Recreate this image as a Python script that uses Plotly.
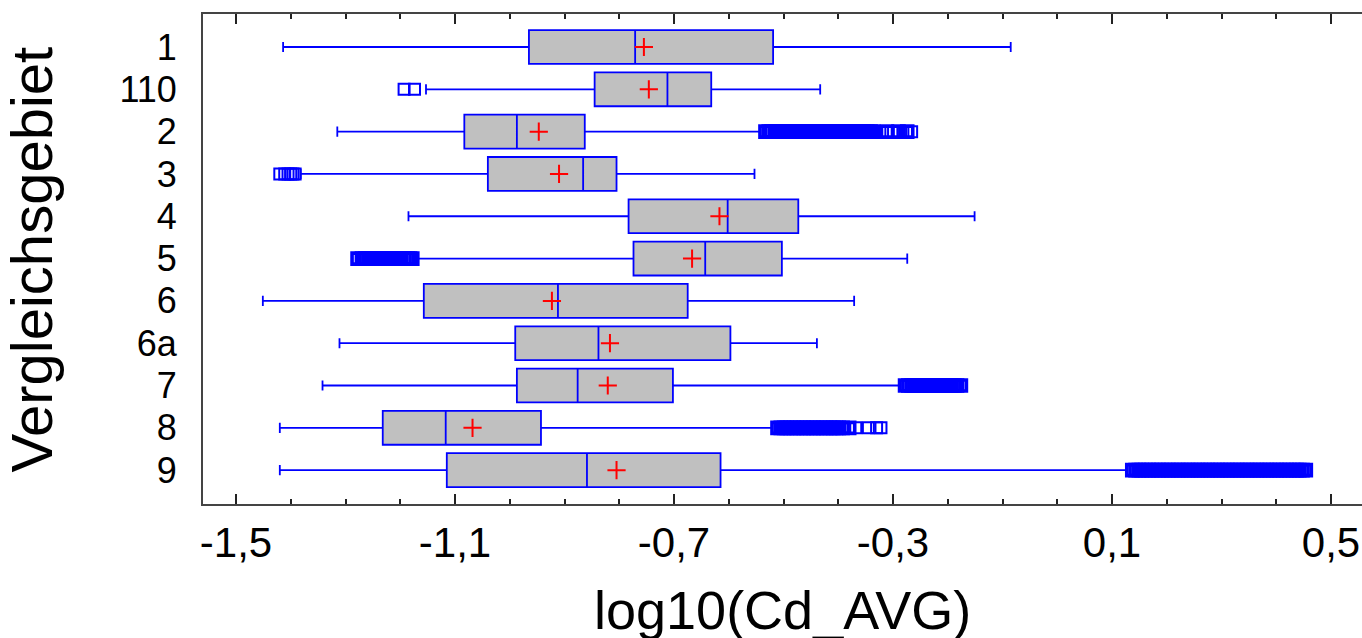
import plotly.graph_objects as go

categories = ["1", "110", "2", "3", "4", "5", "6", "6a", "7", "8", "9"]
lower_whisker = [-1.414, -1.153, -1.315, -1.382, -1.185, -1.168, -1.451, -1.311, -1.342, -1.420, -1.420]
q1 = [-0.965, -0.845, -1.083, -1.040, -0.783, -0.774, -1.157, -0.990, -0.987, -1.232, -1.115]
median = [-0.771, -0.712, -0.987, -0.866, -0.602, -0.643, -0.912, -0.838, -0.876, -1.117, -0.859]
q3 = [-0.519, -0.632, -0.863, -0.805, -0.473, -0.503, -0.675, -0.597, -0.702, -0.943, -0.615]
upper_whisker = [-0.085, -0.433, -0.543, -0.553, -0.151, -0.274, -0.371, -0.439, -0.288, -0.521, 0.127]
means = [-0.755, -0.746, -0.947, -0.910, -0.617, -0.667, -0.923, -0.817, -0.821, -1.068, -0.805]

sparse_outliers = {
    "110": [-1.193, -1.174],
    "3": [-1.420, -1.411, -1.405, -1.400, -1.396, -1.392],
    "2": [-0.324, -0.299, -0.282, -0.266],
    "8": [-0.368, -0.345, -0.330, -0.322],
}
dense_outliers = {
    "2": [-0.533, -0.527, -0.522, -0.515, -0.509, -0.504, -0.497, -0.491, -0.486, -0.479,
          -0.473, -0.468, -0.461, -0.455, -0.450, -0.443, -0.437, -0.432, -0.425, -0.419,
          -0.414, -0.407, -0.401, -0.396, -0.389, -0.383, -0.378, -0.371, -0.365, -0.360,
          -0.353, -0.347, -0.341, -0.336, -0.311, -0.290, -0.274],
    "5": [-1.278, -1.270, -1.264, -1.258, -1.253, -1.246, -1.240, -1.235, -1.228, -1.222,
          -1.217, -1.210, -1.204, -1.199, -1.192, -1.186, -1.182, -1.178],
    "7": [-0.278, -0.272, -0.266, -0.261, -0.254, -0.248, -0.243, -0.236, -0.230, -0.225,
          -0.218, -0.212, -0.207, -0.200, -0.194, -0.188, -0.183, -0.176],
    "8": [-0.511, -0.505, -0.499, -0.494, -0.487, -0.481, -0.476, -0.469, -0.463, -0.458,
          -0.451, -0.445, -0.440, -0.433, -0.427, -0.422, -0.415, -0.409, -0.404, -0.399,
          -0.392, -0.380],
    "9": [0.137, 0.143, 0.149, 0.154, 0.161, 0.167, 0.172, 0.179, 0.185, 0.190,
          0.197, 0.203, 0.208, 0.215, 0.221, 0.226, 0.233, 0.239, 0.244, 0.251,
          0.257, 0.262, 0.269, 0.275, 0.280, 0.287, 0.293, 0.298, 0.305, 0.311,
          0.316, 0.323, 0.329, 0.334, 0.341, 0.347, 0.352, 0.359, 0.365, 0.370,
          0.377, 0.383, 0.388, 0.395, 0.401, 0.406, 0.413, 0.419, 0.424, 0.431,
          0.437, 0.442, 0.448, 0.454],
}

x_ticks = [-1.5, -1.1, -0.7, -0.3, 0.1, 0.5]
x_tick_labels = ["-1,5", "-1,1", "-0,7", "-0,3", "0,1", "0,5"]
x_title = "log10(Cd_AVG)"
y_title = "Vergleichsgebiet"

FONT = "Liberation Sans, Arial, sans-serif"
BLUE = "#0000FF"

fig = go.Figure()
fig.add_trace(go.Box(
    y=categories, q1=q1, median=median, q3=q3,
    lowerfence=lower_whisker, upperfence=upper_whisker,
    orientation="h", boxpoints=False, width=0.8, whiskerwidth=0.3,
    fillcolor="#C0C0C0", line=dict(color=BLUE, width=1.8),
    showlegend=False, hoverinfo="skip",
))


def flatten(d):
    xs, ys = [], []
    for cat in categories:
        for v in d.get(cat, []):
            xs.append(v)
            ys.append(cat)
    return xs, ys


dx, dy = flatten(dense_outliers)
fig.add_trace(go.Scatter(
    x=dx, y=dy, mode="markers", showlegend=False,
    marker=dict(symbol="square-open", size=11, color=BLUE, line=dict(color=BLUE, width=3.6)),
))
sx, sy = flatten(sparse_outliers)
fig.add_trace(go.Scatter(
    x=sx, y=sy, mode="markers", showlegend=False,
    marker=dict(symbol="square-open", size=11, color=BLUE, line=dict(color=BLUE, width=2)),
))
fig.add_trace(go.Scatter(
    x=means, y=categories, mode="markers", showlegend=False,
    marker=dict(symbol="cross-thin", size=13, color="red", line=dict(color="red", width=2)),
))

fig.update_layout(
    width=1362, height=638,
    margin=dict(l=203, r=0, t=14, b=134),
    paper_bgcolor="white", plot_bgcolor="white",
    font=dict(family=FONT, color="black"),
    xaxis=dict(
        range=[-1.5603, 0.5566], tickvals=x_ticks, ticktext=x_tick_labels,
        ticks="inside", ticklen=10, tickwidth=2, tickcolor="#222",
        showline=True, linewidth=2, linecolor="#444", mirror="ticks",
        showgrid=False, zeroline=False,
        tickfont=dict(size=42, family=FONT),
        ticklabelstandoff=1,
        minor=dict(dtick=0.1, tick0=-1.5, ticks="inside", ticklen=5, tickwidth=1.5, tickcolor="#222", showgrid=False),
    ),
    yaxis=dict(
        type="category", categoryorder="array", categoryarray=categories,
        tickmode="array", tickvals=categories, ticktext=categories,
        range=[10.8, -0.78],
        showline=True, linewidth=2, linecolor="#444", mirror=False,
        ticks="", showgrid=False, zeroline=False,
        tickfont=dict(size=36, family=FONT),
        ticklabelstandoff=17,
    ),
    annotations=[
        dict(text=x_title, xref="paper", yref="paper", x=0.5, y=-0.15, xanchor="center", yanchor="top",
             showarrow=False, font=dict(size=54, family=FONT)),
        dict(text=y_title, xref="paper", yref="paper", x=-0.148, y=0.5, xanchor="center", yanchor="middle",
             textangle=-90, showarrow=False, font=dict(size=58, family=FONT)),
    ],
)

fig.write_html("out.html", config={"displayModeBar": False},
               post_script="document.body.style.margin='0';document.body.style.overflow='hidden';")
